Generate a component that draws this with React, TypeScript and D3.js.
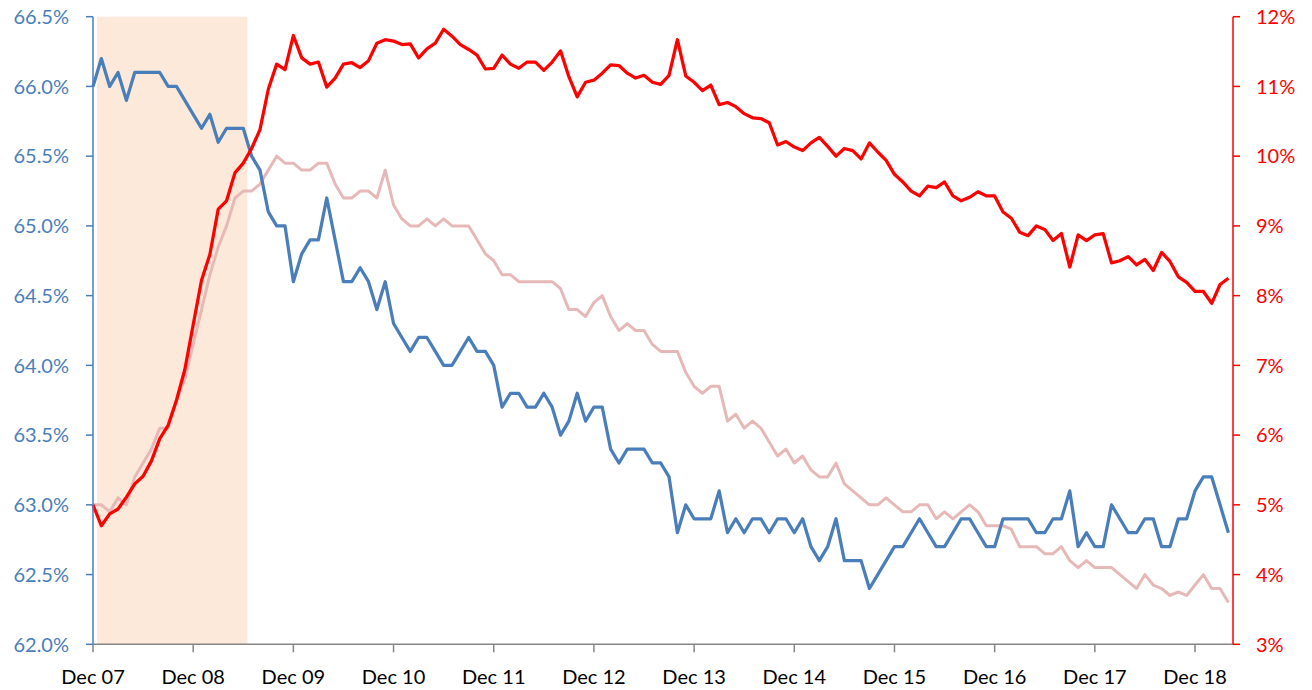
import React from 'react';
import * as d3 from 'd3';

// monthly, Dec 2007 .. Apr 2019
const tickLabels = ['Dec 07', 'Dec 08', 'Dec 09', 'Dec 10', 'Dec 11', 'Dec 12', 'Dec 13', 'Dec 14', 'Dec 15', 'Dec 16', 'Dec 17', 'Dec 18'];

const participation = [
  66.0,
  66.2, 66.0, 66.1, 65.9, 66.1, 66.1, 66.1, 66.1, 66.0, 66.0, 65.9, 65.8,
  65.7, 65.8, 65.6, 65.7, 65.7, 65.7, 65.5, 65.4, 65.1, 65.0, 65.0, 64.6,
  64.8, 64.9, 64.9, 65.2, 64.9, 64.6, 64.6, 64.7, 64.6, 64.4, 64.6, 64.3,
  64.2, 64.1, 64.2, 64.2, 64.1, 64.0, 64.0, 64.1, 64.2, 64.1, 64.1, 64.0,
  63.7, 63.8, 63.8, 63.7, 63.7, 63.8, 63.7, 63.5, 63.6, 63.8, 63.6, 63.7,
  63.7, 63.4, 63.3, 63.4, 63.4, 63.4, 63.3, 63.3, 63.2, 62.8, 63.0, 62.9,
  62.9, 62.9, 63.1, 62.8, 62.9, 62.8, 62.9, 62.9, 62.8, 62.9, 62.9, 62.8,
  62.9, 62.7, 62.6, 62.7, 62.9, 62.6, 62.6, 62.6, 62.4, 62.5, 62.6, 62.7,
  62.7, 62.8, 62.9, 62.8, 62.7, 62.7, 62.8, 62.9, 62.9, 62.8, 62.7, 62.7,
  62.9, 62.9, 62.9, 62.9, 62.8, 62.8, 62.9, 62.9, 63.1, 62.7, 62.8, 62.7,
  62.7, 63.0, 62.9, 62.8, 62.8, 62.9, 62.9, 62.7, 62.7, 62.9, 62.9, 63.1,
  63.2, 63.2, 63.0, 62.8,
];

const broadRate = [
  5.0,
  4.70, 4.87, 4.94, 5.11, 5.30, 5.41, 5.63, 5.95, 6.14, 6.50, 6.94, 7.58,
  8.22, 8.59, 9.24, 9.36, 9.76, 9.90, 10.11, 10.38, 10.96, 11.32, 11.24, 11.73,
  11.41, 11.32, 11.35, 10.99, 11.12, 11.32, 11.34, 11.27, 11.37, 11.62, 11.67, 11.65,
  11.60, 11.61, 11.41, 11.54, 11.62, 11.82, 11.72, 11.60, 11.53, 11.45, 11.25, 11.26,
  11.45, 11.32, 11.26, 11.35, 11.35, 11.23, 11.35, 11.51, 11.14, 10.85, 11.06, 11.09,
  11.19, 11.31, 11.30, 11.19, 11.12, 11.16, 11.06, 11.03, 11.16, 11.67, 11.15, 11.06,
  10.94, 11.02, 10.74, 10.77, 10.71, 10.61, 10.55, 10.54, 10.48, 10.16, 10.21, 10.13,
  10.08, 10.19, 10.27, 10.14, 10.00, 10.11, 10.08, 9.96, 10.19, 10.06, 9.94, 9.74,
  9.63, 9.50, 9.43, 9.57, 9.55, 9.63, 9.43, 9.36, 9.41, 9.49, 9.43, 9.43,
  9.20, 9.11, 8.91, 8.86, 9.00, 8.95, 8.79, 8.89, 8.41, 8.87, 8.79, 8.87,
  8.89, 8.47, 8.50, 8.56, 8.44, 8.52, 8.36, 8.62, 8.49, 8.27, 8.19, 8.06,
  8.06, 7.89, 8.16, 8.25,
];

const unemployment = [
  5.0,
  5.0, 4.9, 5.1, 5.0, 5.4, 5.6, 5.8, 6.1, 6.1, 6.5, 6.8, 7.3,
  7.8, 8.3, 8.7, 9.0, 9.4, 9.5, 9.5, 9.6, 9.8, 10.0, 9.9, 9.9,
  9.8, 9.8, 9.9, 9.9, 9.6, 9.4, 9.4, 9.5, 9.5, 9.4, 9.8, 9.3,
  9.1, 9.0, 9.0, 9.1, 9.0, 9.1, 9.0, 9.0, 9.0, 8.8, 8.6, 8.5,
  8.3, 8.3, 8.2, 8.2, 8.2, 8.2, 8.2, 8.1, 7.8, 7.8, 7.7, 7.9,
  8.0, 7.7, 7.5, 7.6, 7.5, 7.5, 7.3, 7.2, 7.2, 7.2, 6.9, 6.7,
  6.6, 6.7, 6.7, 6.2, 6.3, 6.1, 6.2, 6.1, 5.9, 5.7, 5.8, 5.6,
  5.7, 5.5, 5.4, 5.4, 5.6, 5.3, 5.2, 5.1, 5.0, 5.0, 5.1, 5.0,
  4.9, 4.9, 5.0, 5.0, 4.8, 4.9, 4.8, 4.9, 5.0, 4.9, 4.7, 4.7,
  4.7, 4.65, 4.4, 4.4, 4.4, 4.3, 4.3, 4.4, 4.2, 4.1, 4.2, 4.1,
  4.1, 4.1, 4.0, 3.9, 3.8, 4.0, 3.85, 3.8, 3.7, 3.75, 3.7, 3.85,
  4.0, 3.8, 3.8, 3.6,
];

const leftTicks = [62.0, 62.5, 63.0, 63.5, 64.0, 64.5, 65.0, 65.5, 66.0, 66.5];
const rightTicks = [3, 4, 5, 6, 7, 8, 9, 10, 11, 12];

// recession months (index from Dec 07): Jan 08 .. Jun 09
const recessionFirst = 1;
const recessionLast = 18;

const BLUE = '#4A7EBB';
const RED = '#FF0000';
const PINK = '#E6B9B8';
const SHADE = '#FDE9D9';
const AXIS_GREY = '#868686';
const FONT = "Lato, 'Open Sans', sans-serif";

const App: React.FC = () => {
  const x = d3.scaleLinear().domain([0, 136.55]).range([93, 1233]);
  const yL = d3.scaleLinear().domain([62, 66.5]).range([644.3, 16.7]);
  const yR = d3.scaleLinear().domain([3, 12]).range([644.3, 16.7]);

  const lineL = d3.line<number>().x((_, i) => x(i)).y(d => yL(d));
  const lineR = d3.line<number>().x((_, i) => x(i)).y(d => yR(d));

  const [x0, x1] = x.range();
  const [yBottom, yTop] = yL.range();

  return (
    <svg width={1312} height={690} style={{ position: 'absolute', left: 0, top: 0 }} fontFamily={FONT}>
      <rect x={0} y={0} width={1312} height={690} fill="#fff" />

      {/* recession shading */}
      <rect
        x={x(recessionFirst - 0.5)}
        y={yTop}
        width={x(recessionLast + 0.5) - x(recessionFirst - 0.5)}
        height={yBottom - yTop}
        fill={SHADE}
      />

      {/* series */}
      <path d={lineR(unemployment) || ''} fill="none" stroke={PINK} strokeWidth={3} strokeLinejoin="round" />
      <path d={lineL(participation) || ''} fill="none" stroke={BLUE} strokeWidth={3.25} strokeLinejoin="round" />
      <path d={lineR(broadRate) || ''} fill="none" stroke={RED} strokeWidth={3.25} strokeLinejoin="round" />

      {/* x axis */}
      <line x1={x0} x2={x1} y1={yBottom} y2={yBottom} stroke={AXIS_GREY} strokeWidth={1.5} />
      {tickLabels.map((t, i) => (
        <g key={t} transform={`translate(${x(i * 12)},0)`}>
          <line y1={yBottom} y2={yBottom + 8} stroke={AXIS_GREY} strokeWidth={1.5} />
          <text y={684} textAnchor="middle" fontSize={20} fill="#000">{t}</text>
        </g>
      ))}

      {/* left axis */}
      <line x1={x0} x2={x0} y1={yTop} y2={yBottom} stroke={BLUE} strokeWidth={1.5} />
      {leftTicks.map(t => (
        <g key={t} transform={`translate(0,${yL(t)})`}>
          <line x1={x0 - 7} x2={x0} stroke={BLUE} strokeWidth={1.5} />
          <text x={69} dy="0.36em" textAnchor="end" fontSize={20} fill={BLUE}>{t.toFixed(1) + '%'}</text>
        </g>
      ))}

      {/* right axis */}
      <line x1={x1} x2={x1} y1={yTop} y2={yBottom} stroke={RED} strokeWidth={1.5} />
      {rightTicks.map(t => (
        <g key={t} transform={`translate(0,${yR(t)})`}>
          <line x1={x1} x2={x1 + 7} stroke={RED} strokeWidth={1.5} />
          <text x={1256} dy="0.36em" textAnchor="start" fontSize={20} fill={RED}>{t + '%'}</text>
        </g>
      ))}
    </svg>
  );
};

export default App;
